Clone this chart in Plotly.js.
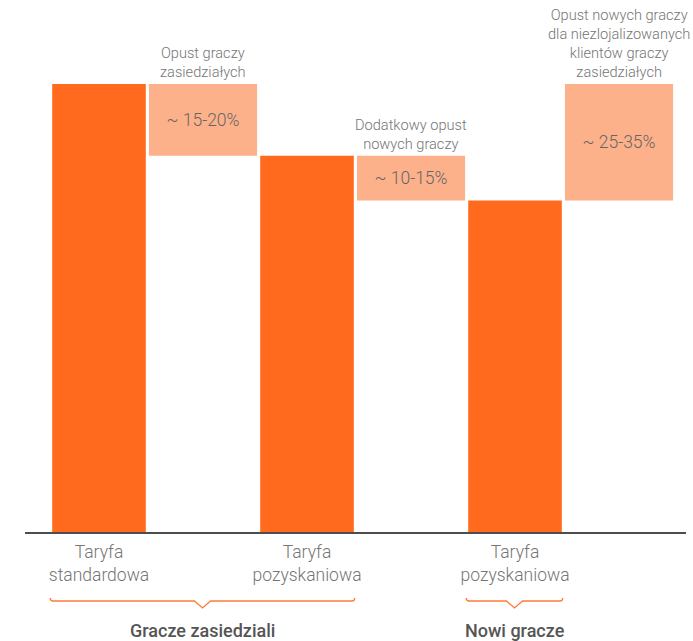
<!DOCTYPE html>
<html>
<head>
<meta charset="utf-8">
<script src="https://cdn.plot.ly/plotly-3.0.1.min.js"></script>
<style>html,body{margin:0;padding:0;background:#fff;}#chart{width:693px;height:641px;}</style>
</head>
<body>
<div id="chart"></div>
<script>
// ---- data ----
const tariffLabels = ['Taryfa<br>standardowa', 'Taryfa<br>pozyskaniowa', 'Taryfa<br>pozyskaniowa'];
const tariffValues = [100, 84, 74];
const discountLabels = ['Opust graczy<br>zasiedziałych', 'Dodatkowy opust<br>nowych graczy', 'Opust nowych graczy<br>dla niezlojalizowanych<br>klientów graczy<br>zasiedziałych'];
const discountText = ['~ 15-20%', '~ 10-15%', '~ 25-35%'];
const discountFrom = [0, 1, 0];   // tariff index at top of discount
const discountTo = [1, 2, 2];     // tariff index at bottom of discount
const groupNames = ['Gracze zasiedziali', 'Nowi gracze'];
const groupFirst = [0, 2];
const groupLast = [1, 2];

// ---- derived ----
const tariffX = tariffValues.map((v, i) => 2 * i);
const discountX = discountLabels.map((v, i) => 2 * i + 1);
const discountBase = discountTo.map(j => tariffValues[j]);
const discountSize = discountFrom.map((f, i) => tariffValues[f] - tariffValues[discountTo[i]]);
const discountTop = discountBase.map((b, i) => b + discountSize[i]);

const ORANGE = '#FF6A1E';
const LIGHT = '#FDB18A';
const FONT = 'Roboto, "Liberation Sans", Arial, sans-serif';
const barW = 0.9, discW = 1.04;
const xr = [-0.7115, 5.644];
const marg = {l: 25, r: 7, t: 84, b: 109};
const plotH = 641 - marg.t - marg.b;
const px = x => (x - xr[0]) / (xr[1] - xr[0]);
const py = off => -off / plotH;

const traces = [
  {
    type: 'bar', x: tariffX, y: tariffValues, width: barW,
    marker: {color: ORANGE, line: {width: 0}}, hoverinfo: 'skip', showlegend: false
  },
  {
    type: 'bar', x: discountX, y: discountSize, base: discountBase, width: discW,
    marker: {color: LIGHT, line: {width: 0}},
    text: discountText, textposition: 'inside', insidetextanchor: 'middle',
    textfont: {family: FONT, size: 17.5, color: '#666666', weight: 300},
    constraintext: 'none', hoverinfo: 'skip', showlegend: false
  }
];

const annotations = discountLabels.map((t, i) => ({
  x: discountX[i], y: discountTop[i], xref: 'x', yref: 'y',
  text: t, showarrow: false, xanchor: 'center', yanchor: 'bottom', yshift: 1,
  font: {family: FONT, size: 14.6, color: '#757575', weight: 300}
}));

const shapes = [];
groupNames.forEach((g, i) => {
  const left = px(tariffX[groupFirst[i]] - barW / 2) - 2 / 661;
  const right = px(tariffX[groupLast[i]] + barW / 2) + 1 / 661;
  const mid = (left + right) / 2;
  const d = 3 / 661, a = 8 / 661;
  const y0 = py(66), y1 = py(69), y2 = py(76);
  shapes.push({
    type: 'path', xref: 'paper', yref: 'paper',
    path: `M ${left},${y0} Q ${left},${y1} ${left + d},${y1} L ${mid - a},${y1} L ${mid},${y2} L ${mid + a},${y1} L ${right - d},${y1} Q ${right},${y1} ${right},${y0}`,
    line: {color: '#FF7A3A', width: 1.3}
  });
  annotations.push({
    x: mid, y: py(98), xref: 'paper', yref: 'paper', text: g, showarrow: false,
    xanchor: 'center', yanchor: 'middle',
    font: {family: FONT, size: 18, color: '#555555', weight: 500}
  });
});

const layout = {
  width: 693, height: 641, margin: marg,
  paper_bgcolor: '#ffffff', plot_bgcolor: '#ffffff',
  barmode: 'overlay', showlegend: false,
  xaxis: {
    range: xr, tickvals: tariffX, ticktext: tariffLabels,
    showgrid: false, zeroline: false, showline: true, linecolor: '#4d4d4d', linewidth: 2,
    ticks: '', tickfont: {family: FONT, size: 17.5, color: '#757575', weight: 300},
    ticklabelstandoff: 3
  },
  yaxis: {range: [0, 100], visible: false, showgrid: false, zeroline: false},
  annotations: annotations, shapes: shapes
};

Plotly.newPlot('chart', traces, layout, {staticPlot: true, displayModeBar: false});
</script>
</body>
</html>
